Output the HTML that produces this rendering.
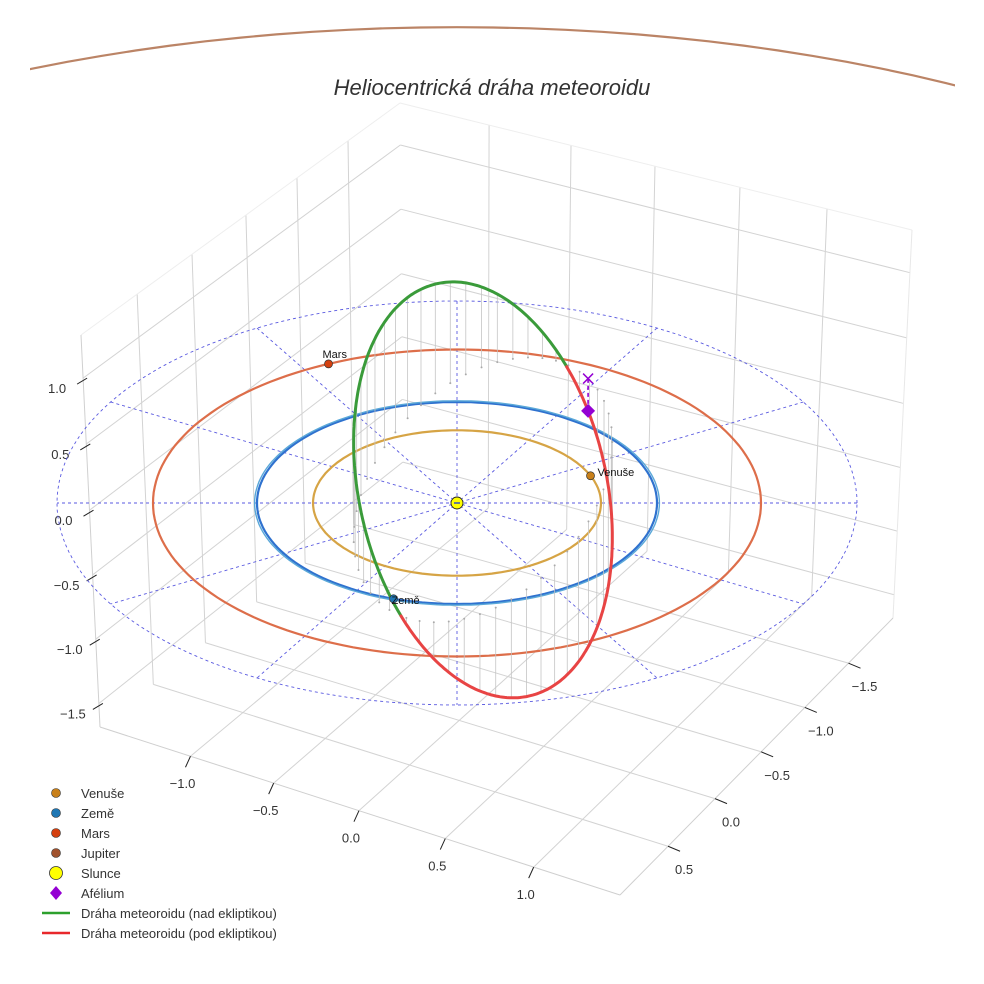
<!DOCTYPE html>
<html><head><meta charset="utf-8"><style>
html,body{margin:0;padding:0;background:#fff;}
svg{display:block;font-family:"Liberation Sans",sans-serif;}
</style></head><body>
<svg id="chart" width="984" height="984" viewBox="0 0 984 984" xmlns="http://www.w3.org/2000/svg">
<defs><clipPath id="axclip"><rect x="30" y="0" width="925" height="200"/></clipPath></defs>
<g id="panes"></g>
<g id="ticks"></g>
<g id="plot"></g>
<text x="492" y="95" text-anchor="middle" font-size="22" font-style="italic" fill="#333">Heliocentrická dráha meteoroidu</text>
<g id="legend" font-size="13" fill="#333">
  <g><circle cx="56" cy="793" r="4.5" fill="#c8801a" stroke="#333" stroke-width="0.6"/><text x="81" y="798">Venuše</text></g>
  <g><circle cx="56" cy="813" r="4.5" fill="#1f77b4" stroke="#333" stroke-width="0.6"/><text x="81" y="818">Země</text></g>
  <g><circle cx="56" cy="833" r="4.5" fill="#d4400f" stroke="#333" stroke-width="0.6"/><text x="81" y="838">Mars</text></g>
  <g><circle cx="56" cy="853" r="4.5" fill="#a0522d" stroke="#333" stroke-width="0.6"/><text x="81" y="858">Jupiter</text></g>
  <g><circle cx="56" cy="873" r="6.5" fill="#ffff00" stroke="#333" stroke-width="0.8"/><text x="81" y="878">Slunce</text></g>
  <g><polygon points="56,886 62,893 56,900 50,893" fill="#9400d3"/><text x="81" y="898">Afélium</text></g>
  <g><line x1="42" y1="913" x2="70" y2="913" stroke="#2ca02c" stroke-width="2.5"/><text x="81" y="918">Dráha meteoroidu (nad ekliptikou)</text></g>
  <g><line x1="42" y1="933" x2="70" y2="933" stroke="#e8282b" stroke-width="2.5"/><text x="81" y="938">Dráha meteoroidu (pod ekliptikou)</text></g>
</g>
</svg>
<script>
// ---- data ----
const orbitNames = ["Venuše", "Země", "Mars", "Jupiter"];
const orbitRadii = [0.72, 1.0, 1.52, 5.2];
const planetAngles = [22, 251.5, 115]; // degrees, Venus, Earth, Mars
const orbitColors = ["#d6a445", "#2f72cf", "#dd6e4a", "#bb8466"];
// meteoroid orbit as a 3D ellipse: centre + U cos t + V sin t  [AU]
const meteorCenter = [0.13, -0.13, 0.0];
const meteorAxisU = [-0.41, 1.248, 0.0];
const meteorAxisV = [-0.5, -0.40, 1.0];
const meteorAphelionT = [195]; // orbit parameter (deg) of aphelion
const refCircleRadius = [2.0];
const radialAngles = [0, 30, 60, 90, 120, 150];
const zTickLabels = ["1.0", "0.5", "0.0", "−0.5", "−1.0", "−1.5"];
const xTickLabels = ["−1.0", "−0.5", "0.0", "0.5", "1.0"];
const yTickLabels = ["0.5", "0.0", "−0.5", "−1.0", "−1.5"];

// ---- projection ----
const cx = 457, cy = 503, sx = 200, sy = 101, sz = 125;
function proj(X, Y, Z) { return [cx + sx * X, cy + sy * Y - sz * Z]; }
const NS = "http://www.w3.org/2000/svg";
function mk(tag, attrs, parent) {
  const el = document.createElementNS(NS, tag);
  for (const k in attrs) el.setAttribute(k, attrs[k]);
  parent.appendChild(el);
  return el;
}
const panes = document.getElementById('panes');
const ticks = document.getElementById('ticks');
const plot = document.getElementById('plot');

// ---- box geometry ----
const TL = [81, 335], TB = [400, 103], TR = [912, 230];
const BL = [100, 727], BB = [403, 485], BF = [620, 895], BR = [893, 618];
const lerp = (a, b, t) => [a[0] + (b[0] - a[0]) * t, a[1] + (b[1] - a[1]) * t];
const hFr = [0.11, 0.278, 0.447, 0.612, 0.776, 0.94];
const leftFr = [0.176, 0.348, 0.517, 0.677, 0.837];
const rightFr = [0.174, 0.334, 0.498, 0.664, 0.834];
function gl(p, q, name, col, w) {
  const l = mk('line', {x1: p[0], y1: p[1], x2: q[0], y2: q[1], stroke: col || '#d3d3d3', 'stroke-width': w || 1}, panes);
  
  
}
hFr.forEach(h => { gl(lerp(TL, BL, h), lerp(TB, BB, h), 'left-pane-gridline'); gl(lerp(TB, BB, h), lerp(TR, BR, h), 'right-pane-gridline'); });
leftFr.forEach(g => { gl(lerp(TL, TB, g), lerp(BL, BB, g), 'left-pane-gridline'); gl(lerp(BL, BB, g), lerp(BF, BR, g), 'floor-gridline'); });
rightFr.forEach(f => { gl(lerp(TB, TR, f), lerp(BB, BR, f), 'right-pane-gridline'); gl(lerp(BL, BF, f), lerp(BB, BR, f), 'floor-gridline'); });
gl(TL, TB, 'pane-edge', '#eeeeee'); gl(TB, TR, 'pane-edge', '#eeeeee');
gl(TL, BL, 'pane-edge', '#d0d0d0'); gl(TR, BR, 'pane-edge', '#e8e8e8');
gl(BL, BF, 'floor-edge', '#cfcfcf'); gl(BF, BR, 'floor-edge', '#cfcfcf');

// ---- ticks ----
zTickLabels.forEach((lab, i) => {
  const p = lerp(TL, BL, hFr[i]);
  const t = mk('line', {x1: p[0] - 6, y1: p[1] + 6, x2: p[0] + 4, y2: p[1], stroke: '#222', 'stroke-width': 1}, ticks);
  
  
  const tx = mk('text', {x: p[0] - 26, y: p[1] + 15, 'text-anchor': 'middle', 'font-size': 13, fill: '#333'}, ticks);
  tx.textContent = lab;
  
  
});
xTickLabels.forEach((lab, i) => {
  const p = lerp(BL, BF, rightFr[i]);
  const t = mk('line', {x1: p[0], y1: p[1], x2: p[0] - 5, y2: p[1] + 11, stroke: '#222', 'stroke-width': 1}, ticks);
  
  
  const tx = mk('text', {x: p[0] - 8, y: p[1] + 32, 'text-anchor': 'middle', 'font-size': 13, fill: '#333'}, ticks);
  tx.textContent = lab;
  
  
});
yTickLabels.forEach((lab, i) => {
  const p = lerp(BF, BR, leftFr[i]);
  const t = mk('line', {x1: p[0], y1: p[1], x2: p[0] + 12, y2: p[1] + 5, stroke: '#222', 'stroke-width': 1}, ticks);
  
  
  const tx = mk('text', {x: p[0] + 16, y: p[1] + 28, 'text-anchor': 'middle', 'font-size': 13, fill: '#333'}, ticks);
  tx.textContent = lab;
  
  
});

// ---- reference circle & radial lines ----
function ringPath(r, yk) {
  let d = '';
  for (let k = 0; k <= 360; k += 2) {
    const a = k * Math.PI / 180;
    const p = proj(r * Math.cos(a), -r * Math.sin(a) * (yk || 1), 0);
    d += (k ? 'L' : 'M') + p[0].toFixed(1) + ',' + p[1].toFixed(1);
  }
  return d;
}
const R = refCircleRadius[0];
const rc = mk('path', {d: ringPath(R), fill: 'none', stroke: '#5a5ae0', 'stroke-width': 0.9, 'stroke-dasharray': '3,3'}, plot);


radialAngles.forEach(ang => {
  const a = ang * Math.PI / 180;
  const p = proj(R * Math.cos(a), -R * Math.sin(a), 0), q = proj(-R * Math.cos(a), R * Math.sin(a), 0);
  const l = mk('line', {x1: p[0], y1: p[1], x2: q[0], y2: q[1], stroke: '#5a5ae0', 'stroke-width': 0.9, 'stroke-dasharray': '3,3'}, plot);
  
  
});

// ---- planet orbits ----
orbitRadii.forEach((r, i) => {
  const jup = r > 3;
  const el = mk('path', {d: ringPath(r, jup ? 0.906 : 1), fill: 'none', stroke: orbitColors[i], 'stroke-width': 2.2}, plot);
  if (jup) el.setAttribute('clip-path', 'url(#axclip)');
  
  
});
const e2 = mk('path', {d: ringPath(orbitRadii[1] * 1.012), fill: 'none', stroke: '#5aa8d8', 'stroke-width': 1.4}, plot);



// ---- meteoroid orbit ----
function meteorPos(tDeg) {
  const t = tDeg * Math.PI / 180, c = Math.cos(t), s = Math.sin(t);
  return [0, 1, 2].map(k => meteorCenter[k] + meteorAxisU[k] * c + meteorAxisV[k] * s);
}
for (let t = 0; t < 360; t += 7) {
  const P = meteorPos(t);
  const a = proj(P[0], P[1], P[2]), b = proj(P[0], P[1], 0);
  const l = mk('line', {x1: a[0], y1: a[1], x2: b[0], y2: b[1], stroke: '#c4c4c4', 'stroke-width': 0.8}, plot);
  
  
  const d = mk('circle', {cx: b[0], cy: b[1], r: 1, fill: '#aaa'}, plot);
  
  
}
let segs = [], cur = null, curUp = null;
for (let t = 0; t <= 360; t += 1) {
  const P = meteorPos(t), up = P[2] >= 0, p = proj(P[0], P[1], P[2]);
  if (up !== curUp) { if (cur) cur.pts.push(p); cur = {up: up, pts: []}; segs.push(cur); curUp = up; }
  cur.pts.push(p);
}
segs.forEach(sg => {
  const d = sg.pts.map((p, k) => (k ? 'L' : 'M') + p[0].toFixed(1) + ',' + p[1].toFixed(1)).join('');
  const el = mk('path', {d: d, fill: 'none', stroke: sg.up ? '#3a9b3a' : '#e84444', 'stroke-width': 3, 'stroke-linecap': 'round'}, plot);
  
  
});
const A = meteorPos(meteorAphelionT[0]);
const ap = proj(A[0], A[1], A[2]), ag = proj(A[0], A[1], 0);
const al = mk('line', {x1: ap[0], y1: ap[1], x2: ag[0], y2: ag[1], stroke: '#9400d3', 'stroke-width': 1.6, 'stroke-dasharray': '4,3'}, plot);


const ax = mk('path', {d: `M${ag[0]-5},${ag[1]-5}L${ag[0]+5},${ag[1]+5}M${ag[0]-5},${ag[1]+5}L${ag[0]+5},${ag[1]-5}`, stroke: '#9400d3', 'stroke-width': 1.5}, plot);


const ad = mk('polygon', {points: `${ap[0]},${ap[1]-7} ${ap[0]+7},${ap[1]} ${ap[0]},${ap[1]+7} ${ap[0]-7},${ap[1]}`, fill: '#9400d3'}, plot);



// ---- planets ----
const planetFill = ["#c8801a", "#1f77b4", "#d4400f"];
const labelOff = [[7, 0], [-2, 5], [-6, -6]];
planetAngles.forEach((ang, i) => {
  const r = orbitRadii[i], a = ang * Math.PI / 180;
  const p = proj(r * Math.cos(a), -r * Math.sin(a), 0);
  const m = mk('circle', {cx: p[0], cy: p[1], r: 4, fill: planetFill[i], stroke: '#333', 'stroke-width': 0.7}, plot);
  
  
  const t = mk('text', {x: p[0] + labelOff[i][0], y: p[1] + labelOff[i][1], 'font-size': 11, fill: '#111'}, plot);
  t.textContent = orbitNames[i];
  
  
});
const sp = proj(0, 0, 0);
const sun = mk('circle', {cx: sp[0], cy: sp[1], r: 6, fill: '#ffff00', stroke: '#222', 'stroke-width': 0.9}, plot);


const sd = mk('line', {x1: sp[0] - 3, y1: sp[1], x2: sp[0] + 3, y2: sp[1], stroke: '#3050c0', 'stroke-width': 1.5}, plot);


</script>
</body></html>
